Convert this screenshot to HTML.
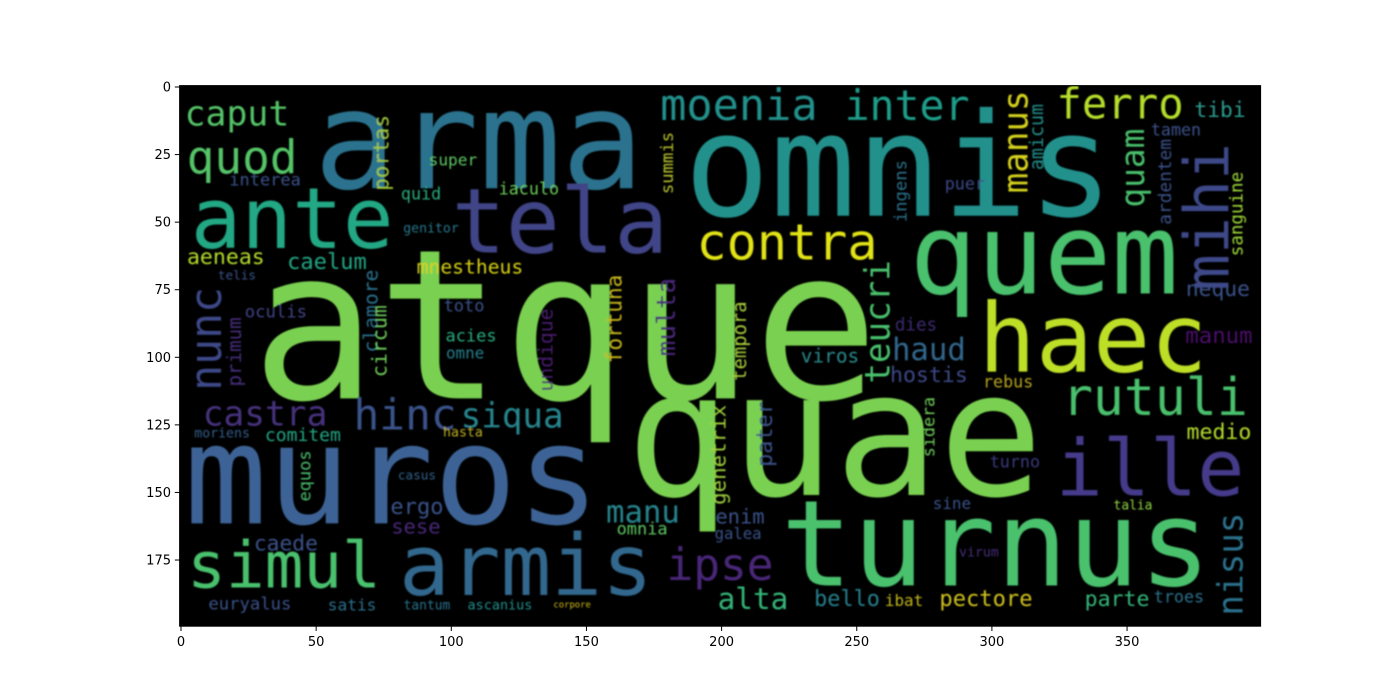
<!DOCTYPE html>
<html><head><meta charset="utf-8"><style>
html,body{margin:0;padding:0;background:#fff;}
svg{display:block;}
text{font-family:"DejaVu Sans Mono","Liberation Mono",monospace;}
.tick{font-family:"DejaVu Sans","Liberation Sans",sans-serif;font-size:13px;fill:#000;}
</style></head><body>
<svg id="chart" width="1400" height="700" viewBox="0 0 1400 700">
<defs><filter id="blur" x="-5%" y="-5%" width="110%" height="110%"><feGaussianBlur stdDeviation="0.9"/></filter>
<clipPath id="imgclip"><rect x="179.6" y="85.6" width="1081" height="540.6"/></clipPath></defs>
<rect x="179.6" y="85.6" width="1081" height="540.6" fill="#000"/>
<g id="words" clip-path="url(#imgclip)" filter="url(#blur)"></g>
<rect x="179.6" y="85.6" width="1081" height="540.6" fill="none" stroke="#000" stroke-width="1"/>
<g id="axes"></g>
</svg>
<script>
const words = ["atque","quae","omnis","arma","muros","turnus","quem","haec","ille","rutuli","ante","tela","armis","simul","contra","moenia","inter","ferro","tibi","caput","quod","castra","hinc","siqua","manu","ipse","alta","haud","hostis","rebus","viros","bello","ibat","pectore","parte","troes","medio","neque","manum","dies","puer","tamen","talia","turno","sine","virum","caede","euryalus","satis","tantum","ascanius","corpore","ergo","sese","interea","iaculo","super","quid","genitor","aeneas","caelum","mnestheus","telis","oculis","toto","acies","omne","moriens","comitem","hasta","casus","enim","galea","omnia","nunc","primum","clamore","circum","portas","summis","fortuna","multa","teucri","tempora","pater","genetrix","equos","undique","manus","quam","mihi","nisus","ingens","ardentem","sanguine","amicum","sidera"];
const wordX = [142.1,241.8,265.6,110.2,78.1,301.5,319.3,337.4,358.5,360.3,41.1,140.2,127.6,38.1,224.2,206.4,268.6,347.4,384.4,20.7,22.6,31.1,82.9,122.5,170.9,199.4,211.6,276.7,276.7,306,240.1,246.4,267.5,297.8,346.3,369.2,384,383.6,384,271.9,290,368.1,352.2,308.5,285.2,295.2,38.8,25.5,63.3,91,118,144.7,87.3,86.9,31.1,128.7,100.6,88.8,92.5,16.6,54,106.9,20.7,35.1,104.7,107.3,105.1,15.2,45.1,104.3,87.3,206.8,206.1,170.6,10.4,20.3,70.7,74,74.7,180.2,160.9,180.2,258.6,207.2,216.4,199.4,46.2,135.4,309.7,352.9,381.4,389.2,266.7,364.4,391,317,277.1];
const wordY = [94.3,133.6,33.3,23.7,147.6,172.4,65.1,95.8,143.2,116.2,51.1,52.2,179.4,178.7,58.8,7.8,8.1,7.4,8.9,10.7,27.4,121.7,122.5,122.5,158,178,190.2,98,106.9,109.5,99.9,189.8,190.5,189.8,189.8,189,128,75.1,92.5,88.4,36.3,16.3,155,139.1,154.6,172.4,169.4,191.6,192,192,192,191.6,155.8,163.2,34.8,38.1,27.4,40,52.5,63.3,65.1,67,69.9,83.6,81.4,92.5,98.8,128.4,129.1,128,143.9,159.5,165.7,163.9,93.2,98,82.9,94,24.4,28.1,85.8,85.1,86.9,94,128.4,136.1,143.9,97.3,20.3,30,48.1,176.5,38.5,35.1,47,18.5,125.8];
const wordSize = [77.4,64.3,53,50.9,51.3,44.2,41.5,35.3,29.1,19.1,31.3,33.4,31.3,23.9,18.6,16.2,15.4,15.7,7.9,12.9,17.1,12.8,15.9,12.7,11.4,16.5,10.9,11.4,8,6.2,7.2,8.1,5.9,8.2,8,6.2,8,7.9,8.3,6.5,6.2,6.2,4.8,6.2,5.9,4.9,7.9,6.4,6,4.8,5,3.3,8.2,7.6,6.3,6.2,6,6.2,4.9,8,8.2,7.3,4.7,6.4,6.3,6.3,5.9,4.9,6.7,4.9,4.7,7.6,5.8,6.3,16,7.1,7.3,7.4,7.8,6.4,7.8,9.7,12.7,7,8.1,7.7,6.3,7.3,12.7,12.2,22.8,12.7,6.4,6.6,6.5,6.8,6.2];
const wordVertical = [0,0,0,0,0,0,0,0,0,0,0,0,0,0,0,0,0,0,0,0,0,0,0,0,0,0,0,0,0,0,0,0,0,0,0,0,0,0,0,0,0,0,0,0,0,0,0,0,0,0,0,0,0,0,0,0,0,0,0,0,0,0,0,0,0,0,0,0,0,0,0,0,0,0,1,1,1,1,1,1,1,1,1,1,1,1,1,1,1,1,1,1,1,1,1,1,1];
const wordColor = ["#7ad151","#7ad151","#21918c","#2c728e","#3e6396","#4ac16d","#4ac16d","#bddf26","#453b8a","#4ac16d","#22a884","#414487","#31688e","#4ac16d","#e2e418","#21918c","#1f9e89","#b5de2b","#2a9d8f","#54c568","#54c568","#46337e","#3b528b","#25858e","#25858e","#482878","#35b779","#31688e","#3e4989","#b8a51f","#2a8a8c","#26828e","#c3b81c","#d0c31f","#35b779","#2c728e","#b5de2b","#3b528b","#4b0c6b","#3e2a72","#3e4a89","#3b528b","#90d743","#3b3a80","#3b528b","#472d7b","#3b528b","#3b528b","#2c728e","#2c728e","#21918c","#d8c11d","#3b528b","#482878","#3b528b","#6cce59","#5ec962","#29af7f","#2a788e","#b5de2b","#22a884","#d8d219","#3b528b","#414487","#3b528b","#29af7f","#26828e","#355f8d","#22a884","#c2b324","#33638d","#3b528b","#3b528b","#5ec962","#3e4a89","#472d7b","#2c728e","#6ece58","#9fc83a","#b8c22a","#c8b81c","#482878","#4ac16d","#a8cf3a","#3b528b","#9fd03a","#4ac16d","#481f70","#d6d21f","#4ac16d","#3e4a89","#2c728e","#2c728e","#3b528b","#a0da39","#21918c","#6ece58"];
const xTicks = [0,50,100,150,200,250,300,350];
const yTicks = [0,25,50,75,100,125,150,175];

const X0 = 181, Y0 = 87, K = 2.703;
function sx(v){ return X0 + v*K; }
function sy(v){ return Y0 + v*K; }
const NS = "http://www.w3.org/2000/svg";
const g = document.getElementById('words');
for (let i=0;i<words.length;i++){
  const cx = sx(wordX[i]), cy = sy(wordY[i]), fs = wordSize[i]*K;
  const t = document.createElementNS(NS,'text');
  t.setAttribute('x', cx);
  t.setAttribute('y', cy + 0.27*fs);
  t.setAttribute('font-size', fs);
  t.setAttribute('text-anchor','middle');
  t.setAttribute('fill', wordColor[i]);
  t.setAttribute('textLength', 0.6*fs*words[i].length);
  t.setAttribute('lengthAdjust','spacingAndGlyphs');
  if (wordVertical[i]) t.setAttribute('transform','rotate(-90 '+cx+' '+cy+')');
  t.textContent = words[i];
  
  
  g.appendChild(t);
}
const ax = document.getElementById('axes');
xTicks.forEach(v=>{
  const x = sx(v);
  const l = document.createElementNS(NS,'line');
  l.setAttribute('x1',x); l.setAttribute('x2',x); l.setAttribute('y1',626.2); l.setAttribute('y2',631);
  l.setAttribute('stroke','#000');
  
  
  ax.appendChild(l);
  const t = document.createElementNS(NS,'text');
  t.setAttribute('x',x); t.setAttribute('y',646); t.setAttribute('text-anchor','middle'); t.setAttribute('class','tick');
  t.textContent = v;
  
  
  ax.appendChild(t);
});
yTicks.forEach(v=>{
  const y = sy(v);
  const l = document.createElementNS(NS,'line');
  l.setAttribute('x1',174.8); l.setAttribute('x2',179.6); l.setAttribute('y1',y); l.setAttribute('y2',y);
  l.setAttribute('stroke','#000');
  
  
  ax.appendChild(l);
  const t = document.createElementNS(NS,'text');
  t.setAttribute('x',171); t.setAttribute('y',y+4.5); t.setAttribute('text-anchor','end'); t.setAttribute('class','tick');
  t.textContent = v;
  
  
  ax.appendChild(t);
});
</script>
</body></html>
